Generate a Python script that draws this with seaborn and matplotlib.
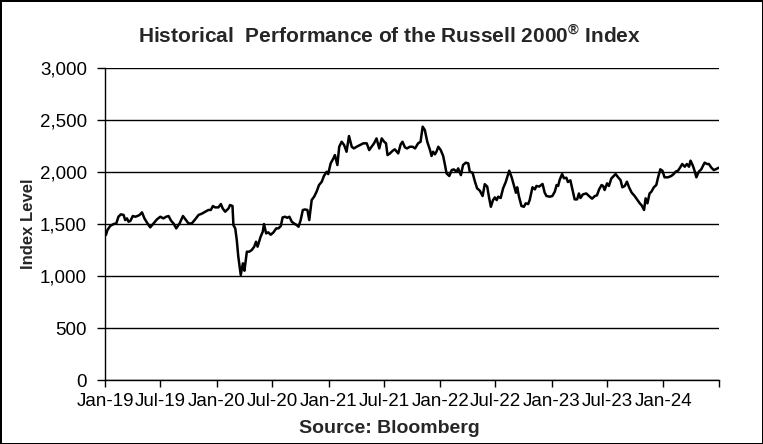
import matplotlib
matplotlib.use("Agg")
import matplotlib.pyplot as plt
import matplotlib.dates as mdates
from matplotlib.ticker import FuncFormatter
import pandas as pd
import seaborn as sns

# ---------------------------------------------------------------------------
# Data (Russell 2000 index level)
# ---------------------------------------------------------------------------
dates_2019 = ["2019-01-04", "2019-01-09", "2019-01-18", "2019-01-29", "2019-02-07",
              "2019-02-14", "2019-02-22", "2019-03-03", "2019-03-08", "2019-03-14",
              "2019-03-19", "2019-03-25", "2019-04-02", "2019-04-10", "2019-04-17",
              "2019-04-24", "2019-05-02", "2019-05-10", "2019-05-20", "2019-05-29",
              "2019-06-09", "2019-06-20", "2019-07-01", "2019-07-11", "2019-07-20",
              "2019-07-28", "2019-08-05", "2019-08-13", "2019-08-22", "2019-09-02",
              "2019-09-13", "2019-09-23", "2019-10-01", "2019-10-12", "2019-10-23",
              "2019-11-03", "2019-11-14", "2019-11-25", "2019-12-05", "2019-12-13",
              "2019-12-20", "2019-12-27"]
level_2019 = [1394, 1442, 1481, 1500, 1506, 1570, 1593, 1587, 1538, 1554,
              1522, 1530, 1577, 1570, 1577, 1587, 1612, 1554, 1506, 1468,
              1506, 1545, 1570, 1554, 1570, 1577, 1532, 1506, 1458, 1506,
              1577, 1538, 1506, 1506, 1545, 1587, 1600, 1618, 1635, 1635,
              1673, 1660]

dates_2020 = ["2020-01-07", "2020-01-15", "2020-01-21", "2020-01-29", "2020-02-09",
              "2020-02-14", "2020-02-22", "2020-02-25", "2020-03-02", "2020-03-07",
              "2020-03-12", "2020-03-20", "2020-03-27", "2020-04-01", "2020-04-09",
              "2020-04-17", "2020-04-25", "2020-05-03", "2020-05-09", "2020-05-14",
              "2020-05-24", "2020-05-31", "2020-06-04", "2020-06-11", "2020-06-18",
              "2020-06-26", "2020-07-05", "2020-07-14", "2020-07-21", "2020-07-29",
              "2020-08-04", "2020-08-12", "2020-08-19", "2020-08-26", "2020-09-03",
              "2020-09-10", "2020-09-19", "2020-09-25", "2020-10-02", "2020-10-09",
              "2020-10-16", "2020-10-24", "2020-10-30", "2020-11-07", "2020-11-15",
              "2020-11-23", "2020-12-01", "2020-12-10", "2020-12-17", "2020-12-26",
              "2020-12-31"]
level_2020 = [1660, 1692, 1650, 1618, 1650, 1683, 1673, 1490, 1458, 1346,
              1186, 1010, 1122, 1051, 1234, 1234, 1250, 1282, 1330, 1282,
              1378, 1426, 1500, 1410, 1420, 1397, 1420, 1458, 1458, 1481,
              1564, 1570, 1560, 1570, 1522, 1506, 1490, 1474, 1538, 1635,
              1640, 1635, 1538, 1731, 1763, 1811, 1875, 1907, 1962, 2003,
              1980]

dates_2021 = ["2021-01-08", "2021-01-17", "2021-01-22", "2021-01-30", "2021-02-05",
              "2021-02-13", "2021-02-21", "2021-03-01", "2021-03-09", "2021-03-18",
              "2021-03-25", "2021-04-03", "2021-04-14", "2021-04-25", "2021-05-06",
              "2021-05-14", "2021-05-22", "2021-05-30", "2021-06-07", "2021-06-16",
              "2021-06-24", "2021-07-02", "2021-07-08", "2021-07-13", "2021-07-21",
              "2021-07-30", "2021-08-06", "2021-08-17", "2021-08-25", "2021-08-31",
              "2021-09-08", "2021-09-15", "2021-09-24", "2021-10-03", "2021-10-11",
              "2021-10-21", "2021-10-29", "2021-11-05", "2021-11-12", "2021-11-20",
              "2021-11-29", "2021-12-04", "2021-12-09", "2021-12-15", "2021-12-20",
              "2021-12-26"]
level_2021 = [2083, 2131, 2163, 2067, 2243, 2291, 2260, 2195, 2346, 2243,
              2227, 2243, 2259, 2276, 2276, 2211, 2243, 2276, 2323, 2227,
              2323, 2291, 2276, 2163, 2179, 2205, 2218, 2179, 2266, 2291,
              2237, 2227, 2243, 2243, 2227, 2276, 2291, 2436, 2404, 2291,
              2211, 2154, 2195, 2170, 2195, 2243]

dates_2022 = ["2022-01-03", "2022-01-11", "2022-01-17", "2022-01-22", "2022-01-31",
              "2022-02-08", "2022-02-15", "2022-02-24", "2022-03-01", "2022-03-10",
              "2022-03-17", "2022-03-26", "2022-04-03", "2022-04-08", "2022-04-17",
              "2022-04-25", "2022-05-02", "2022-05-11", "2022-05-20", "2022-05-27",
              "2022-06-04", "2022-06-10", "2022-06-16", "2022-06-23", "2022-06-29",
              "2022-07-05", "2022-07-10", "2022-07-18", "2022-07-26", "2022-08-04",
              "2022-08-15", "2022-08-23", "2022-08-30", "2022-09-06", "2022-09-10",
              "2022-09-16", "2022-09-24", "2022-10-02", "2022-10-08", "2022-10-16",
              "2022-10-21", "2022-10-30", "2022-11-07", "2022-11-12", "2022-11-21",
              "2022-12-02", "2022-12-09", "2022-12-15", "2022-12-26"]
level_2022 = [2211, 2154, 2067, 1987, 1962, 2019, 2025, 2003, 2035, 1970,
              2067, 2090, 2083, 2003, 1994, 1907, 1843, 1820, 1769, 1883,
              1860, 1756, 1666, 1730, 1756, 1730, 1763, 1750, 1843, 1907,
              2013, 1949, 1875, 1801, 1853, 1763, 1673, 1666, 1699, 1692,
              1731, 1853, 1833, 1866, 1860, 1885, 1801, 1769, 1763]

dates_2023 = ["2023-01-03", "2023-01-11", "2023-01-17", "2023-01-22", "2023-01-27",
              "2023-02-04", "2023-02-10", "2023-02-18", "2023-02-23", "2023-03-03",
              "2023-03-10", "2023-03-17", "2023-03-25", "2023-03-31", "2023-04-05",
              "2023-04-13", "2023-04-24", "2023-05-03", "2023-05-13", "2023-05-22",
              "2023-05-29", "2023-06-05", "2023-06-13", "2023-06-18", "2023-06-23",
              "2023-07-01", "2023-07-07", "2023-07-15", "2023-07-29", "2023-08-06",
              "2023-08-14", "2023-08-20", "2023-08-28", "2023-09-04", "2023-09-11",
              "2023-09-19", "2023-09-29", "2023-10-07", "2023-10-16", "2023-10-22",
              "2023-10-30", "2023-11-04", "2023-11-10", "2023-11-17", "2023-11-23",
              "2023-12-01", "2023-12-09", "2023-12-14", "2023-12-22", "2023-12-29"]
level_2023 = [1769, 1811, 1875, 1866, 1924, 1981, 1940, 1945, 1904, 1920,
              1827, 1737, 1737, 1794, 1750, 1785, 1794, 1769, 1744, 1769,
              1776, 1833, 1875, 1866, 1827, 1891, 1866, 1938, 1981, 1949,
              1923, 1853, 1866, 1907, 1853, 1804, 1770, 1737, 1699, 1680,
              1635, 1747, 1699, 1794, 1811, 1853, 1875, 1938, 2026, 2013]

dates_2024 = ["2024-01-05", "2024-01-16", "2024-01-27", "2024-02-04", "2024-02-10",
              "2024-02-18", "2024-02-23", "2024-03-03", "2024-03-11", "2024-03-18",
              "2024-03-25", "2024-03-30", "2024-04-07", "2024-04-12", "2024-04-18",
              "2024-04-26", "2024-05-04", "2024-05-15", "2024-05-23", "2024-05-29",
              "2024-06-06", "2024-06-14", "2024-06-20", "2024-07-01"]
level_2024 = [1949, 1949, 1962, 1981, 2003, 2013, 2035, 2077, 2051, 2077,
              2051, 2109, 2058, 2013, 1949, 2003, 2026, 2090, 2077, 2077,
              2042, 2019, 2026, 2042]

y_ticks = [0, 500, 1000, 1500, 2000, 2500, 3000]
x_start, x_end = "2019-01-01", "2024-07-01"

# ---------------------------------------------------------------------------
# Build frame
# ---------------------------------------------------------------------------
df = pd.DataFrame({
    "date": pd.to_datetime(dates_2019 + dates_2020 + dates_2021
                           + dates_2022 + dates_2023 + dates_2024),
    "level": level_2019 + level_2020 + level_2021
             + level_2022 + level_2023 + level_2024,
})

# ---------------------------------------------------------------------------
# Plot
# ---------------------------------------------------------------------------
sns.set_theme(style="white")
plt.rcParams["font.family"] = ["Liberation Sans", "DejaVu Sans"]
plt.rcParams["mathtext.fontset"] = "custom"
plt.rcParams["mathtext.rm"] = "Liberation Sans"
plt.rcParams["mathtext.bf"] = "Liberation Sans:bold"

fig = plt.figure(figsize=(7.63, 4.44), dpi=100)
fig.patch.set_facecolor("white")
fig.patch.set_edgecolor("black")
fig.patch.set_linewidth(2)

ax = fig.add_axes([0.1376, 0.1441, 0.8047, 0.7027])
sns.lineplot(data=df, x="date", y="level", ax=ax, color="black", linewidth=1.8)

ax.set_xlim(pd.Timestamp(x_start), pd.Timestamp(x_end))
ax.set_ylim(0, 3000)
ax.set_yticks(y_ticks)
ax.yaxis.set_major_formatter(FuncFormatter(lambda v, _: f"{int(v):,}"))
ax.xaxis.set_major_locator(mdates.MonthLocator(bymonth=[1, 7]))

# label Jan-19 .. Jan-24 (the final Jul-24 tick carries no label)
ticks = ax.get_xticks()
labels = []
for t in ticks:
    d = mdates.num2date(t)
    labels.append("" if (d.year == 2024 and d.month == 7) else d.strftime("%b-%y"))
ax.set_xticks(ticks)
ax.set_xticklabels(labels)

ax.grid(axis="y", color="black", linewidth=1.0)
ax.grid(axis="x", visible=False)
ax.set_axisbelow(True)
for side in ["top", "right"]:
    ax.spines[side].set_visible(False)
for side in ["left", "bottom"]:
    ax.spines[side].set_color("black")
    ax.spines[side].set_linewidth(1.0)

ax.tick_params(axis="y", which="major", left=True, length=6, width=1,
               color="black", labelsize=13.5, pad=7, labelcolor="black")
ax.tick_params(axis="x", which="major", bottom=True, length=5, width=1,
               color="black", labelsize=13.5, pad=4, labelcolor="black")

ax.set_xlabel("")
ax.set_ylabel("")
fig.text(0.037, 0.495, "Index Level", rotation=90, ha="center", va="center",
         fontsize=12, fontweight="bold")
fig.text(0.51, 0.921, "Historical  Performance of the Russell 2000$^{\\mathbf{\u00ae}}$ Index",
         ha="center", va="center", fontsize=15, fontweight="bold")
fig.text(0.51, 0.036, "Source: Bloomberg", ha="center", va="center",
         fontsize=14, fontweight="bold")

fig.savefig("out.png", dpi=100, facecolor=fig.get_facecolor(),
            edgecolor=fig.get_edgecolor())
